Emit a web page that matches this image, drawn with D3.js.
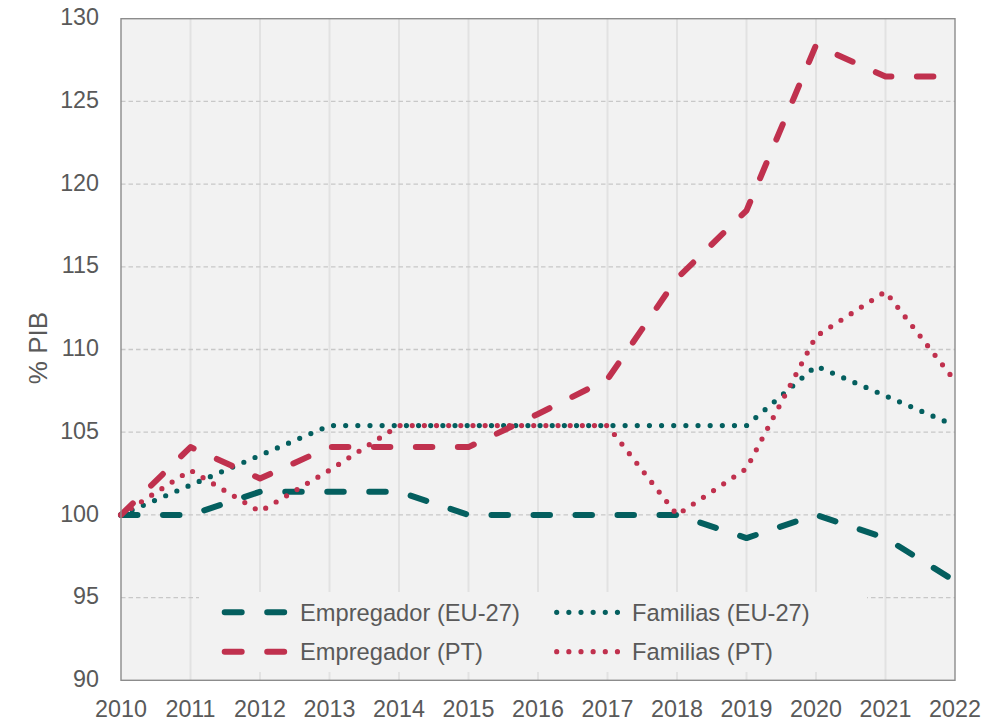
<!DOCTYPE html>
<html>
<head>
<meta charset="utf-8">
<script src="https://cdn.jsdelivr.net/npm/d3@7"></script>
<style>
  html, body { margin: 0; padding: 0; background: #ffffff; }
  svg { display: block; }
  text { font-family: "Liberation Sans", Arial, sans-serif; fill: #595959; }
</style>
</head>
<body>
<svg id="chart" width="999" height="721"></svg>
<script>
const years = [2010, 2011, 2012, 2013, 2014, 2015, 2016, 2017, 2018, 2019, 2020, 2021, 2022];
const empregadorEU = [100, 100, 101.4, 101.4, 101.4, 100, 100, 100, 100, 98.6, 100, 98.6, 96.0];
const familiasEU   = [100, 101.8, 103.6, 105.4, 105.4, 105.4, 105.4, 105.4, 105.4, 105.4, 109.0, 107.2, 105.4];
const empregadorPT = [100, 104.1, 102.2, 104.1, 104.1, 104.1, 106.1, 108.2, 114.3, 118.4, 128.4, 126.5, 126.5];
const familiasPT   = [100, 102.7, 100.2, 102.7, 105.4, 105.4, 105.4, 105.4, 100.0, 102.8, 110.8, 113.5, 108.1];
const yTicks = [90, 95, 100, 105, 110, 115, 120, 125, 130];
const seriesNames = ["Empregador (EU-27)", "Familias (EU-27)", "Empregador (PT)", "Familias (PT)"];
const yTitle = "% PIB";

const TEAL = "#045F5F", RED = "#C0314E";
const series = [
  { name: seriesNames[0], values: empregadorEU, color: TEAL, kind: "dash" },
  { name: seriesNames[1], values: familiasEU, color: TEAL, kind: "dot" },
  { name: seriesNames[2], values: empregadorPT, color: RED, kind: "dash" },
  { name: seriesNames[3], values: familiasPT, color: RED, kind: "dot" }
];
const styleOf = k => k === "dash"
  ? { w: 6, dash: "16.5,25.5" }
  : { w: 5.2, dash: "0,12.15" };

const svg = d3.select("#chart");
const L = 121, R = 955, T = 18.7, B = 680.3;
const x = d3.scaleLinear().domain([2010, 2022]).range([L, R]);
const y = d3.scaleLinear().domain([90, 130]).range([B, T]);

// plot background
svg.append("rect").attr("x", L).attr("y", T).attr("width", R - L).attr("height", B - T).attr("fill", "#F2F2F2");

// vertical gridlines
svg.append("g").selectAll("line").data(years.slice(1, -1)).join("line")
  .attr("x1", d => x(d)).attr("x2", d => x(d)).attr("y1", T).attr("y2", B)
  .attr("stroke", "#E2E2E2").attr("stroke-width", 2);

// horizontal dashed gridlines
svg.append("g").selectAll("line").data(yTicks.slice(1, -1)).join("line")
  .attr("x1", L).attr("x2", R).attr("y1", d => y(d)).attr("y2", d => y(d))
  .attr("stroke", "#C8C8C8").attr("stroke-width", 1.3).attr("stroke-dasharray", "4.5,3");

// lines
const line = d3.line().x((d, i) => x(years[i])).y(d => y(d));
series.forEach(s => {
  const st = styleOf(s.kind);
  svg.append("path").datum(s.values).attr("d", line)
    .attr("fill", "none").attr("stroke", s.color).attr("stroke-width", st.w)
    .attr("stroke-dasharray", st.dash).attr("stroke-linecap", "round").attr("stroke-linejoin", "round");
});

// plot border
svg.append("rect").attr("x", L).attr("y", T).attr("width", R - L).attr("height", B - T)
  .attr("fill", "none").attr("stroke", "#8C8C8C").attr("stroke-width", 1.4);

// y axis labels
svg.append("g").selectAll("text").data(yTicks).join("text")
  .attr("x", 99).attr("y", d => y(d) + 6.6).attr("text-anchor", "end")
  .style("font-size", "23.3px").text(d => d);

// x axis labels
svg.append("g").selectAll("text").data(years).join("text")
  .attr("x", d => x(d)).attr("y", 716.6).attr("text-anchor", "middle")
  .style("font-size", "23.3px").text(d => d);

// y title
svg.append("text").attr("transform", "translate(46.5,348) rotate(-90)")
  .attr("text-anchor", "middle").style("font-size", "26px").text(yTitle);

// legend
const lg = svg.append("g");
lg.append("rect").attr("x", 199).attr("y", 592).attr("width", 668).attr("height", 80).attr("fill", "#F2F2F2");
const legendPos = [
  { sx: 224.7, sy: 612.3, tx: 300 },
  { sx: 556.7, sy: 612.3, tx: 632 },
  { sx: 224.7, sy: 651.7, tx: 300 },
  { sx: 556.7, sy: 651.7, tx: 632 }
];
series.forEach((s, i) => {
  const p = legendPos[i];
  const st = styleOf(s.kind);
  const len = s.kind === "dash" ? 59.5 : 60.75;
  lg.append("line").attr("x1", p.sx).attr("x2", p.sx + len).attr("y1", p.sy).attr("y2", p.sy)
    .attr("stroke", s.color).attr("stroke-width", st.w).attr("stroke-dasharray", s.kind === "dash" ? "17,25.5" : st.dash)
    .attr("stroke-linecap", "round");
  lg.append("text").attr("x", p.tx).attr("y", p.sy + 8.2).style("font-size", "23.7px").text(s.name);
});
</script>
</body>
</html>
